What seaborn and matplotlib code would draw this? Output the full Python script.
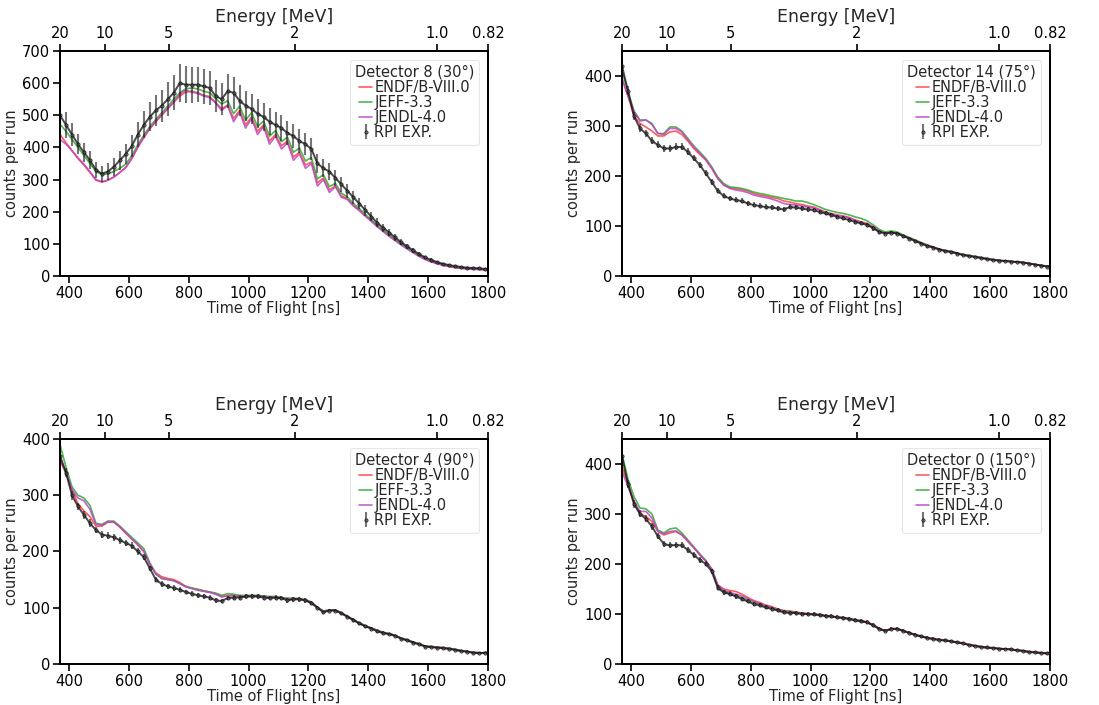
import numpy as np
import pandas as pd
import matplotlib
matplotlib.use("Agg")
import matplotlib.pyplot as plt
import seaborn as sns

# ---------------- data ----------------
tof = list(range(370, 1811, 20))  # time of flight [ns]

# Detector 8 (30 deg)
d8_exp = [500, 470, 440, 410, 385, 360, 330, 318, 325, 340,
          360, 380, 405, 440, 470, 495, 515, 530, 550, 570,
          600, 595, 595, 595, 590, 585, 560, 550, 575, 570,
          545, 530, 520, 505, 495, 480, 470, 460, 445, 435,
          420, 410, 395, 350, 335, 325, 305, 285, 265, 245,
          225, 205, 185, 165, 150, 135, 120, 105, 92, 80,
          68, 58, 50, 43, 38, 34, 31, 28, 26, 25,
          24, 22, 22]
d8_err = [45, 40, 35, 32, 30, 28, 26, 25, 26, 28,
          30, 32, 35, 38, 42, 45, 48, 50, 52, 55,
          58, 57, 56, 55, 54, 52, 50, 50, 52, 50,
          48, 47, 46, 45, 44, 42, 41, 40, 38, 37,
          36, 35, 34, 30, 28, 27, 25, 24, 22, 20,
          18, 17, 15, 14, 12, 11, 10, 9, 8, 7,
          6, 5, 5, 4, 4, 3, 3, 3, 3, 3,
          3, 3, 3]
d8_endf = [440, 415, 390, 365, 345, 322, 298, 292, 298, 308,
           322, 338, 365, 400, 430, 458, 480, 500, 520, 540,
           560, 572, 575, 570, 562, 558, 540, 520, 532, 490,
           515, 470, 495, 450, 470, 420, 440, 405, 420, 370,
           385, 345, 355, 290, 305, 268, 280, 250, 240, 220,
           205, 188, 172, 155, 140, 125, 112, 98, 86, 74,
           63, 53, 45, 39, 34, 30, 27, 25, 23, 22,
           21, 20, 20]
d8_jeff = [472, 450, 425, 400, 375, 350, 325, 315, 318, 325,
           335, 348, 375, 408, 438, 465, 487, 508, 528, 550,
           570, 582, 585, 582, 575, 570, 552, 535, 545, 505,
           528, 485, 508, 465, 482, 435, 452, 418, 432, 385,
           398, 358, 368, 302, 315, 278, 288, 258, 246, 226,
           210, 192, 175, 158, 143, 128, 114, 100, 88, 75,
           64, 54, 46, 40, 35, 31, 28, 25, 23, 22,
           21, 20, 20]
d8_jendl = [425, 410, 390, 368, 348, 325, 300, 293, 298, 308,
            322, 338, 366, 402, 432, 460, 482, 502, 522, 542,
            565, 578, 572, 568, 560, 555, 538, 515, 530, 480,
            510, 460, 490, 440, 465, 410, 435, 395, 415, 360,
            380, 335, 350, 280, 300, 260, 278, 245, 238, 218,
            203, 186, 170, 153, 138, 123, 110, 96, 84, 72,
            61, 51, 44, 38, 33, 29, 26, 24, 22, 21,
            20, 19, 19]

# Detector 14 (75 deg)
d14_exp = [420, 370, 320, 295, 285, 270, 262, 255, 255, 258,
           258, 248, 235, 222, 205, 188, 170, 160, 155, 152,
           150, 145, 142, 140, 138, 137, 135, 133, 138, 137,
           135, 133, 132, 128, 125, 122, 118, 115, 112, 108,
           105, 102, 95, 88, 85, 87, 85, 80, 75, 70,
           65, 60, 57, 53, 50, 48, 45, 42, 40, 38,
           36, 34, 32, 31, 30, 29, 28, 27, 25, 23,
           21, 19, 20]
d14_err = [10, 9, 8, 8, 7, 7, 7, 7, 7, 7,
           7, 7, 6, 6, 6, 6, 5, 5, 5, 5,
           5, 5, 5, 5, 5, 5, 5, 5, 5, 5,
           5, 5, 4, 4, 4, 4, 4, 4, 4, 4,
           4, 4, 4, 3, 3, 3, 3, 3, 3, 3,
           3, 3, 3, 3, 3, 3, 3, 2, 2, 2,
           2, 2, 2, 2, 2, 2, 2, 2, 2, 2,
           2, 2, 2]
d14_endf = [395, 360, 320, 305, 298, 290, 280, 280, 288, 290,
            283, 270, 255, 243, 232, 215, 195, 182, 177, 175,
            173, 170, 165, 162, 160, 157, 155, 150, 148, 145,
            143, 140, 138, 133, 128, 125, 122, 120, 117, 112,
            108, 105, 98, 90, 87, 88, 86, 81, 76, 71,
            66, 62, 58, 54, 51, 49, 46, 43, 41, 39,
            37, 35, 33, 31, 30, 29, 28, 27, 25, 23,
            21, 20, 20]
d14_jeff = [410, 370, 330, 312, 312, 305, 285, 285, 298, 298,
            290, 275, 260, 248, 235, 218, 198, 185, 178, 177,
            175, 172, 168, 165, 163, 160, 158, 155, 153, 150,
            150, 147, 143, 138, 133, 130, 127, 125, 122, 118,
            115, 110, 102, 93, 88, 90, 88, 82, 77, 72,
            67, 62, 58, 54, 51, 49, 46, 43, 41, 39,
            37, 35, 33, 31, 30, 29, 28, 27, 25, 23,
            21, 20, 20]
d14_jendl = [395, 360, 330, 310, 312, 303, 285, 283, 295, 295,
             288, 273, 258, 245, 233, 216, 195, 182, 175, 172,
             170, 167, 162, 159, 157, 154, 150, 145, 143, 142,
             140, 138, 136, 132, 127, 124, 121, 119, 116, 111,
             107, 104, 97, 89, 86, 87, 85, 80, 75, 70,
             65, 61, 57, 53, 50, 48, 45, 42, 40, 38,
             36, 34, 32, 31, 30, 29, 28, 27, 25, 23,
             21, 20, 20]

# Detector 4 (90 deg)
d4_exp = [370, 340, 300, 280, 265, 250, 238, 230, 228, 225,
          220, 215, 210, 200, 190, 170, 150, 142, 138, 135,
          132, 128, 125, 122, 120, 118, 113, 112, 117, 118,
          118, 120, 120, 120, 118, 117, 118, 117, 113, 115,
          115, 113, 108, 100, 92, 95, 95, 90, 84, 78,
          72, 67, 63, 58, 55, 53, 50, 45, 42, 38,
          35, 31, 30, 29, 28, 27, 25, 23, 22, 20,
          19, 20, 21]
d4_err = [9, 8, 8, 7, 7, 7, 6, 6, 6, 6,
          6, 6, 6, 6, 5, 5, 5, 5, 5, 5,
          4, 4, 4, 4, 4, 4, 4, 4, 4, 4,
          4, 4, 4, 4, 4, 4, 4, 4, 4, 4,
          4, 4, 4, 3, 3, 3, 3, 3, 3, 3,
          3, 3, 3, 3, 3, 2, 2, 2, 2, 2,
          2, 2, 2, 2, 2, 2, 2, 2, 2, 2,
          2, 2, 2]
d4_endf = [360, 340, 310, 285, 272, 262, 245, 245, 252, 252,
           243, 232, 222, 212, 200, 178, 162, 155, 152, 150,
           145, 138, 135, 132, 130, 128, 125, 120, 122, 122,
           120, 120, 121, 121, 120, 119, 119, 118, 116, 116,
           116, 114, 110, 101, 94, 96, 96, 91, 85, 79,
           73, 68, 64, 60, 56, 54, 51, 46, 43, 39,
           36, 32, 31, 30, 29, 28, 26, 24, 22, 21,
           20, 20, 21]
d4_jeff = [390, 350, 315, 300, 295, 282, 250, 248, 254, 254,
           245, 235, 225, 215, 205, 180, 160, 152, 150, 148,
           143, 138, 135, 133, 130, 128, 126, 122, 125, 124,
           122, 122, 122, 122, 121, 120, 120, 118, 117, 117,
           116, 114, 110, 101, 94, 96, 96, 91, 85, 79,
           73, 68, 64, 60, 56, 54, 51, 46, 43, 39,
           36, 32, 31, 30, 29, 28, 26, 24, 22, 21,
           20, 20, 21]
d4_jendl = [365, 340, 310, 295, 290, 275, 248, 247, 253, 252,
            244, 233, 222, 212, 200, 177, 160, 152, 150, 148,
            143, 137, 134, 131, 129, 127, 124, 119, 121, 121,
            120, 120, 121, 120, 120, 119, 118, 117, 116, 115,
            115, 113, 109, 100, 93, 95, 95, 90, 84, 78,
            72, 67, 63, 59, 55, 53, 50, 45, 42, 38,
            35, 31, 30, 29, 28, 27, 25, 23, 22, 20,
            19, 19, 20]

# Detector 0 (150 deg)
d0_exp = [415, 360, 320, 300, 290, 275, 255, 240, 237, 238,
          237, 228, 218, 208, 200, 185, 152, 143, 140, 135,
          130, 125, 120, 117, 113, 110, 107, 103, 102, 102,
          100, 100, 99, 98, 96, 95, 93, 92, 90, 87,
          85, 83, 77, 70, 66, 70, 70, 66, 62, 58,
          55, 52, 50, 48, 47, 45, 43, 41, 38, 36,
          34, 33, 32, 30, 30, 29, 27, 26, 24, 23,
          22, 21, 22]
d0_err = [9, 8, 8, 7, 7, 7, 6, 6, 6, 6,
          6, 6, 6, 6, 5, 5, 5, 5, 5, 5,
          4, 4, 4, 4, 4, 4, 4, 4, 4, 4,
          4, 4, 4, 4, 4, 4, 4, 4, 4, 4,
          4, 4, 4, 3, 3, 3, 3, 3, 3, 3,
          3, 3, 3, 3, 3, 2, 2, 2, 2, 2,
          2, 2, 2, 2, 2, 2, 2, 2, 2, 2,
          2, 2, 2]
d0_endf = [395, 360, 325, 300, 295, 285, 265, 258, 262, 265,
           258, 245, 232, 218, 206, 190, 158, 150, 147, 145,
           140, 133, 127, 123, 118, 115, 110, 107, 106, 104,
           102, 101, 100, 99, 97, 96, 94, 93, 91, 88,
           87, 84, 78, 71, 67, 71, 71, 67, 63, 59,
           56, 53, 51, 49, 48, 46, 44, 42, 39, 37,
           35, 33, 32, 31, 30, 29, 28, 27, 25, 24,
           23, 22, 22]
d0_jeff = [420, 370, 335, 312, 310, 300, 268, 262, 270, 272,
           262, 248, 234, 220, 207, 188, 156, 145, 140, 137,
           133, 128, 124, 120, 116, 113, 109, 106, 105, 103,
           101, 100, 99, 98, 96, 95, 93, 92, 90, 88,
           86, 83, 77, 70, 66, 70, 70, 66, 62, 58,
           55, 52, 50, 48, 47, 45, 43, 41, 38, 36,
           34, 32, 32, 31, 30, 29, 28, 26, 24, 23,
           22, 21, 22]
d0_jendl = [385, 355, 325, 305, 305, 292, 265, 260, 265, 266,
            258, 246, 233, 219, 206, 190, 158, 148, 143, 140,
            136, 131, 125, 121, 116, 113, 108, 105, 104, 102,
            101, 100, 99, 98, 96, 95, 93, 92, 90, 88,
            86, 83, 77, 70, 66, 70, 70, 66, 62, 58,
            55, 52, 50, 48, 47, 45, 43, 41, 38, 36,
            34, 32, 32, 31, 30, 29, 28, 26, 24, 23,
            22, 21, 22]

titles = ["Detector 8 (30\u00b0)", "Detector 14 (75\u00b0)",
          "Detector 4 (90\u00b0)", "Detector 0 (150\u00b0)"]
libraries = ["ENDF/B-VIII.0", "JEFF-3.3", "JENDL-4.0"]
lib_colors = ["#ff4040", "#33a833", "#b848c8"]
ylims = [700, 450, 400, 450]

energy_ticks = [20, 10, 5, 2, 1.0, 0.82]
energy_labels = ["20", "10", "5", "2", "1.0", "0.82"]
tof_min, tof_max = 370, 1800

panels = [
    (d8_exp, d8_err, [d8_endf, d8_jeff, d8_jendl]),
    (d14_exp, d14_err, [d14_endf, d14_jeff, d14_jendl]),
    (d4_exp, d4_err, [d4_endf, d4_jeff, d4_jendl]),
    (d0_exp, d0_err, [d0_endf, d0_jeff, d0_jendl]),
]

# TOF = A / sqrt(E) + T0 (scale of the top energy axis)
A = (tof_max - tof_min) / (1 / np.sqrt(0.82) - 1 / np.sqrt(20))
T0 = tof_min - A / np.sqrt(20)

# ---------------- plot ----------------
sns.set_theme(style="ticks")
plt.rcParams["font.family"] = ["DejaVu Sans"]

fig, axes = plt.subplots(2, 2, figsize=(10.99, 7.05), dpi=100)
fig.subplots_adjust(left=0.0546, right=0.9554, bottom=0.0582, top=0.9277,
                    wspace=0.313, hspace=0.724)

for ax, (exp, err, sims), title, ymax in zip(axes.flat, panels, titles, ylims):
    for vals, lib, col in zip(sims, libraries, lib_colors):
        df = pd.DataFrame({"tof": tof, "counts": vals})
        sns.lineplot(data=df, x="tof", y="counts", ax=ax, color=col,
                     lw=1.2, alpha=0.85, label=lib)
    # dense experimental trace (thin joined band) + points with error bars
    ax.plot(tof, exp, color=(0.05, 0.05, 0.05, 0.75), lw=1.4, zorder=3)
    ax.errorbar(tof, exp, yerr=err, fmt="o", ms=2.4,
                mfc=(0.3, 0.3, 0.3, 0.7), mec=(0.0, 0.0, 0.0, 0.8),
                mew=0.5, ecolor=(0.1, 0.1, 0.1, 0.6), elinewidth=1.5,
                capsize=0, label="RPI EXP.", zorder=3)

    ax.set_xlim(tof_min, tof_max)
    ax.set_ylim(0, ymax)
    ax.set_xticks(range(400, 1801, 200))
    ax.set_yticks(range(0, ymax + 1, 100))
    ax.set_xlabel("Time of Flight [ns]", fontsize=10.5, labelpad=0)
    ax.set_ylabel("counts per run", fontsize=10.5, labelpad=2)
    ax.tick_params(direction="out", length=5, width=1.2, labelsize=10.5,
                   colors="black", pad=2)
    for sp in ax.spines.values():
        sp.set_visible(True)
        sp.set_linewidth(1.3)
        sp.set_color("black")

    top = ax.twiny()
    top.set_xlim(tof_min, tof_max)
    top.set_xticks([A / np.sqrt(e) + T0 for e in energy_ticks])
    top.set_xticklabels(energy_labels)
    top.set_xlabel("Energy [MeV]", fontsize=12.5, labelpad=3)
    top.tick_params(direction="out", length=5, width=1.2, labelsize=10.5,
                    colors="black", pad=2)
    for sp in top.spines.values():
        sp.set_linewidth(1.3)
        sp.set_color("black")

    leg = ax.legend(title=title, loc="upper right", fontsize=10.5,
                    title_fontsize=10.5, handlelength=0.9,
                    handletextpad=0.15, labelspacing=0.0, borderpad=0.35,
                    borderaxespad=0.6, frameon=True, fancybox=True)
    leg.get_frame().set_edgecolor("0.88")
    leg.get_frame().set_linewidth(0.8)

fig.savefig("out.png", dpi=100)
